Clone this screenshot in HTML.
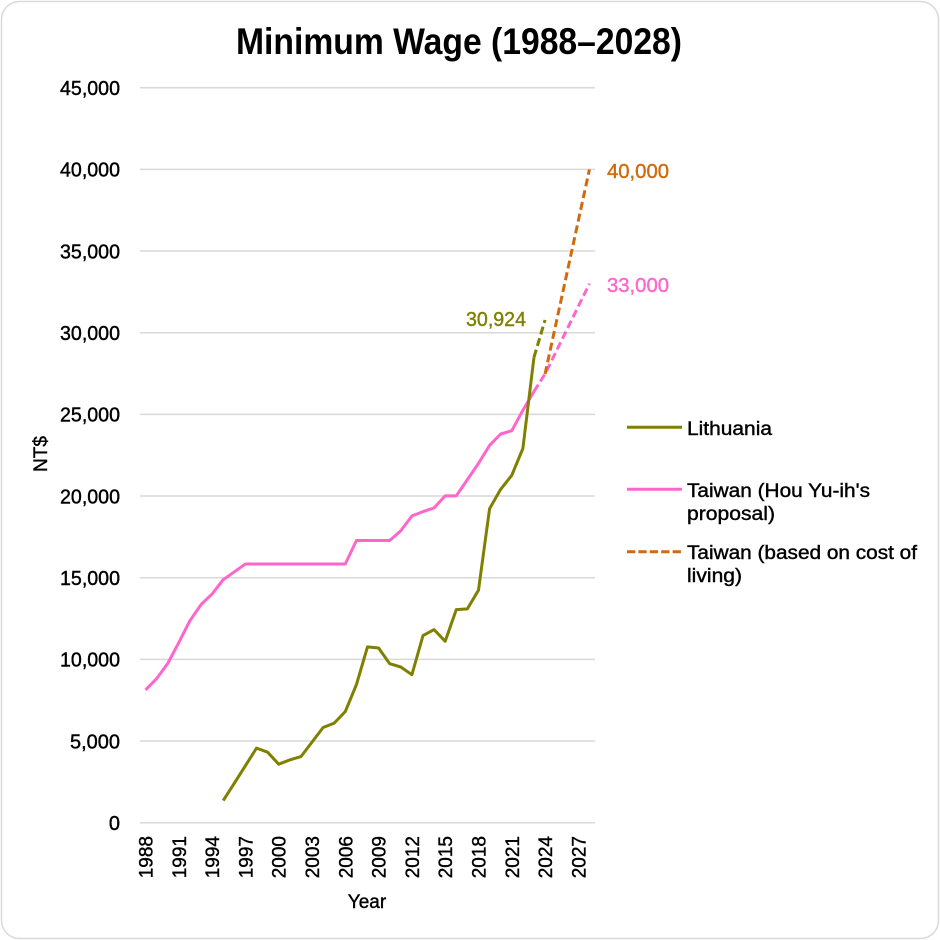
<!DOCTYPE html>
<html><head><meta charset="utf-8"><style>
html,body{margin:0;padding:0;background:#fff;}
svg{display:block;}
text{font-family:"Liberation Sans","DejaVu Sans",sans-serif;}
</style></head><body>
<svg width="940" height="940" viewBox="0 0 940 940" xmlns="http://www.w3.org/2000/svg">
<rect x="1.5" y="1.5" width="937" height="937" rx="18" ry="18" fill="#fff" stroke="#d9d9d9" stroke-width="1.5"/>
<text x="459" y="54" font-size="37" font-weight="bold" text-anchor="middle" textLength="446" lengthAdjust="spacingAndGlyphs" fill="#000">Minimum Wage (1988–2028)</text>
<g stroke="#d9d9d9" stroke-width="1.5">
<line x1="140" x2="595" y1="87.7" y2="87.7"/>
<line x1="140" x2="595" y1="169.4" y2="169.4"/>
<line x1="140" x2="595" y1="251" y2="251"/>
<line x1="140" x2="595" y1="332.7" y2="332.7"/>
<line x1="140" x2="595" y1="414.4" y2="414.4"/>
<line x1="140" x2="595" y1="496" y2="496"/>
<line x1="140" x2="595" y1="577.7" y2="577.7"/>
<line x1="140" x2="595" y1="659.4" y2="659.4"/>
<line x1="140" x2="595" y1="741" y2="741"/>
<line x1="140" x2="595" y1="822.7" y2="822.7"/>
</g>
<g font-size="20" text-anchor="end" fill="#000" stroke="#000" stroke-width="0.4">
<text x="120" y="95" textLength="60" lengthAdjust="spacingAndGlyphs">45,000</text>
<text x="120" y="176.7" textLength="60" lengthAdjust="spacingAndGlyphs">40,000</text>
<text x="120" y="258.3" textLength="60" lengthAdjust="spacingAndGlyphs">35,000</text>
<text x="120" y="340" textLength="60" lengthAdjust="spacingAndGlyphs">30,000</text>
<text x="120" y="421.7" textLength="60" lengthAdjust="spacingAndGlyphs">25,000</text>
<text x="120" y="503.3" textLength="60" lengthAdjust="spacingAndGlyphs">20,000</text>
<text x="120" y="585" textLength="60" lengthAdjust="spacingAndGlyphs">15,000</text>
<text x="120" y="666.7" textLength="60" lengthAdjust="spacingAndGlyphs">10,000</text>
<text x="120" y="748.3" textLength="50" lengthAdjust="spacingAndGlyphs">5,000</text>
<text x="120" y="830">0</text>
</g>
<g font-size="19" text-anchor="end" fill="#000" stroke="#000" stroke-width="0.4">
<text transform="translate(152.5,836) rotate(-90)">1988</text>
<text transform="translate(185.8,836) rotate(-90)">1991</text>
<text transform="translate(219.1,836) rotate(-90)">1994</text>
<text transform="translate(252.4,836) rotate(-90)">1997</text>
<text transform="translate(285.7,836) rotate(-90)">2000</text>
<text transform="translate(319,836) rotate(-90)">2003</text>
<text transform="translate(352.3,836) rotate(-90)">2006</text>
<text transform="translate(385.6,836) rotate(-90)">2009</text>
<text transform="translate(418.9,836) rotate(-90)">2012</text>
<text transform="translate(452.2,836) rotate(-90)">2015</text>
<text transform="translate(485.5,836) rotate(-90)">2018</text>
<text transform="translate(518.8,836) rotate(-90)">2021</text>
<text transform="translate(552.1,836) rotate(-90)">2024</text>
<text transform="translate(585.4,836) rotate(-90)">2027</text>
</g>
<text x="367" y="908" font-size="19" text-anchor="middle" fill="#000" stroke="#000" stroke-width="0.4">Year</text>
<text transform="translate(47,454) rotate(-90)" font-size="19" text-anchor="middle" fill="#000" stroke="#000" stroke-width="0.4">NT$</text>

<!-- Taiwan solid -->
<polyline fill="none" stroke="#ff66cc" stroke-width="3" stroke-linejoin="round" points="145.55,689.9 156.65,678.6 167.74,663.5 178.84,642.4 189.94,620.7 201.04,604.6 212.13,593.9 223.23,579.7 234.33,571.8 245.43,564 256.52,564 267.62,564 278.72,564 289.82,564 300.91,564 312.01,564 323.11,564 334.21,564 345.3,564 356.4,540.5 367.5,540.5 378.6,540.5 389.7,540.5 400.79,530.7 411.89,516 422.99,511.6 434.09,507.9 445.18,495.9 456.28,495.9 467.38,479.6 478.48,463.4 489.57,445.4 500.67,434 511.77,430.7 522.87,410.3 533.96,391.5"/>
<!-- Taiwan dashed pink -->
<polyline fill="none" stroke="#ff66cc" stroke-width="3" stroke-dasharray="8 4" points="533.96,391.5 545.06,374 589.45,283.7"/>
<!-- orange dashed -->
<polyline fill="none" stroke="#d06a0c" stroke-width="3" stroke-dasharray="8 4" points="545.06,374 589.45,169.4"/>
<!-- Lithuania solid -->
<polyline fill="none" stroke="#808000" stroke-width="3" stroke-linejoin="round" points="223.23,800.6 234.33,783.2 245.43,765.7 256.52,748.1 267.62,752.2 278.72,764.2 289.82,759.9 300.91,756.6 312.01,742.1 323.11,727.5 334.21,723.1 345.3,711.5 356.4,684.7 367.5,646.9 378.6,648 389.7,663.7 400.79,667 411.89,674.7 422.99,635.6 434.09,629.6 445.18,641.3 456.28,609.6 467.38,608.9 478.48,590.2 489.57,508.7 500.67,489.3 511.77,475.3 522.87,448.5 533.96,357.4"/>
<polyline fill="none" stroke="#808000" stroke-width="3" stroke-dasharray="8 4" points="533.96,357.4 545.06,320"/>

<text x="466" y="326" font-size="20" fill="#808000" stroke="#808000" stroke-width="0.4" textLength="60" lengthAdjust="spacingAndGlyphs">30,924</text>
<text x="607" y="178" font-size="20" fill="#d06a0c" stroke="#d06a0c" stroke-width="0.4" textLength="62" lengthAdjust="spacingAndGlyphs">40,000</text>
<text x="607" y="292" font-size="20" fill="#ff66cc" stroke="#ff66cc" stroke-width="0.4" textLength="62" lengthAdjust="spacingAndGlyphs">33,000</text>

<!-- Legend -->
<line x1="627" x2="682" y1="427.3" y2="427.3" stroke="#808000" stroke-width="3"/>
<line x1="627" x2="682" y1="489.3" y2="489.3" stroke="#ff66cc" stroke-width="3"/>
<line x1="627" x2="682" y1="551.7" y2="551.7" stroke="#d06a0c" stroke-width="3" stroke-dasharray="8.3 3.1"/>
<g font-size="19" fill="#000" stroke="#000" stroke-width="0.4">
<text x="687" y="435" textLength="85" lengthAdjust="spacingAndGlyphs">Lithuania</text>
<text x="687" y="497" textLength="183" lengthAdjust="spacingAndGlyphs">Taiwan (Hou Yu-ih's</text>
<text x="687" y="520" textLength="88" lengthAdjust="spacingAndGlyphs">proposal)</text>
<text x="687" y="559" textLength="230" lengthAdjust="spacingAndGlyphs">Taiwan (based on cost of</text>
<text x="687" y="582" textLength="55" lengthAdjust="spacingAndGlyphs">living)</text>
</g>
</svg>
</body></html>
